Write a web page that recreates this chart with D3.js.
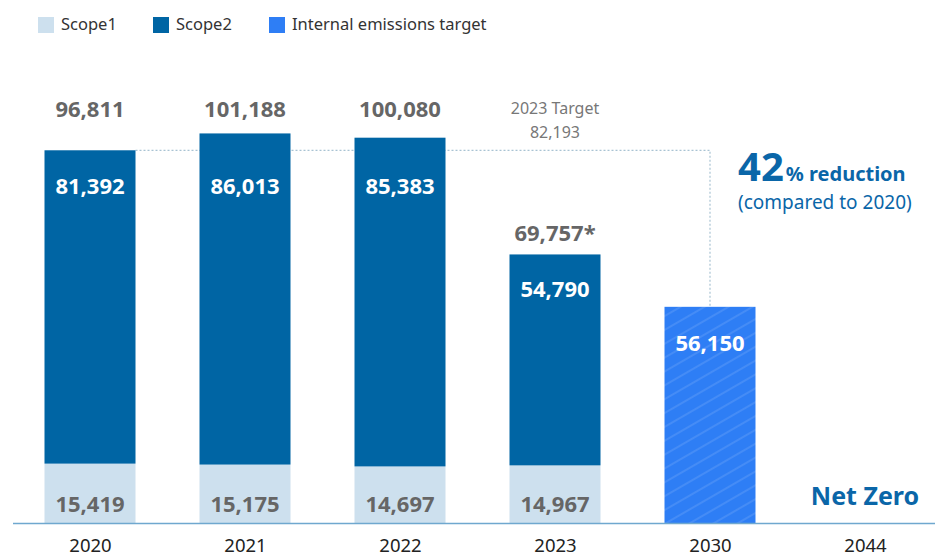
<!DOCTYPE html>
<html>
<head>
<meta charset="utf-8">
<script src="https://cdn.jsdelivr.net/npm/d3@7/dist/d3.min.js"></script>
<style>
  html, body { margin: 0; padding: 0; background: #fff; }
  svg { display: block; font-family: "Noto Sans", "Open Sans", sans-serif; }
</style>
</head>
<body>
<svg id="chart" width="935" height="556"></svg>
<script>
// Emissions data (tCO2e)
const years = ["2020", "2021", "2022", "2023", "2030", "2044"];
const scope1 = [15419, 15175, 14697, 14967, null, null];
const scope2 = [81392, 86013, 85383, 54790, null, null];
const totals = ["96,811", "101,188", "100,080", "69,757*", null, null];
const targetValues = [null, null, null, null, 56150, 0];
const target2023 = 82193;
const legendLabels = ["Scope1", "Scope2", "Internal emissions target"];

const colors = {
  scope1: "#cde0ee",
  scope2: "#0065a4",
  target: "#2e7ef5",
  grey: "#666666",
  accent: "#0a66a8",
  axis: "#6fa8cf",
  guide: "#a9c3d3"
};

const svg = d3.select("#chart");
const fmt = d3.format(",");

const baseY = 523;
const x = d3.scalePoint().domain(years).range([90, 865]);
const barW = 91;
const y = d3.scaleLinear().domain([0, 110000]).range([baseY, baseY - 423.5]);

// hatch for target bar
const defs = svg.append("defs");
const pat = defs.append("pattern")
  .attr("id", "hatch")
  .attr("patternUnits", "userSpaceOnUse")
  .attr("width", 12).attr("height", 12)
  .attr("patternTransform", "rotate(-30)");
pat.append("rect").attr("width", 12).attr("height", 12).attr("fill", colors.target);
pat.append("line").attr("x1", 0).attr("x2", 12).attr("y1", 6).attr("y2", 6)
  .attr("stroke", "rgba(255,255,255,0.22)").attr("stroke-width", 1);

// legend
const legendX = [38, 153, 269];
const legendFill = [colors.scope1, colors.scope2, colors.target];
const lg = svg.append("g");
legendLabels.forEach((t, i) => {
  lg.append("rect").attr("x", legendX[i]).attr("y", 17).attr("width", 16).attr("height", 16)
    .attr("fill", legendFill[i]);
  lg.append("text").attr("x", legendX[i] + 23).attr("y", 30)
    .attr("font-size", 16.5).attr("fill", "#333").text(t);
});

// guide from 2020 level to the 2030 target
const level2020 = scope1[0] + scope2[0];
const guideY = y(level2020);
svg.append("path")
  .attr("d", d3.line()([
    [x("2020") + barW / 2, guideY],
    [x("2030"), guideY],
    [x("2030"), y(targetValues[4])]
  ]))
  .attr("fill", "none")
  .attr("stroke", colors.guide)
  .attr("stroke-width", 1.2)
  .attr("stroke-dasharray", "2,2");

// stacked actual bars
const actual = years.map((yr, i) => ({ yr, s1: scope1[i], s2: scope2[i], total: totals[i] }))
  .filter(d => d.s1 != null);

const g = svg.append("g");
g.selectAll("rect.s1").data(actual).join("rect")
  .attr("x", d => x(d.yr) - barW / 2)
  .attr("y", d => y(d.s1))
  .attr("width", barW)
  .attr("height", d => y(0) - y(d.s1))
  .attr("fill", colors.scope1);

g.selectAll("rect.s2").data(actual).join("rect")
  .attr("x", d => x(d.yr) - barW / 2)
  .attr("y", d => y(d.s1 + d.s2))
  .attr("width", barW)
  .attr("height", d => y(d.s1) - y(d.s1 + d.s2))
  .attr("fill", colors.scope2);

// target bar
const tgt = years.map((yr, i) => ({ yr, v: targetValues[i] })).filter(d => d.v);
g.selectAll("rect.t").data(tgt).join("rect")
  .attr("x", d => x(d.yr) - barW / 2)
  .attr("y", d => y(d.v))
  .attr("width", barW)
  .attr("height", d => y(0) - y(d.v))
  .attr("fill", "url(#hatch)");

// value labels
const totalRow = 117;
const innerRow = 194;
g.selectAll("text.total").data(actual).join("text")
  .attr("x", d => x(d.yr))
  .attr("y", d => {
    const top = y(d.s1 + d.s2);
    return top < 170 ? totalRow : top - 13;
  })
  .attr("text-anchor", "middle")
  .attr("font-size", 22).attr("font-weight", 700)
  .attr("fill", colors.grey)
  .text(d => d.total);

g.selectAll("text.s2").data(actual).join("text")
  .attr("x", d => x(d.yr))
  .attr("y", d => Math.max(y(d.s1 + d.s2) + 43, innerRow))
  .attr("text-anchor", "middle")
  .attr("font-size", 22).attr("font-weight", 700)
  .attr("fill", "#fff")
  .text(d => fmt(d.s2));

g.selectAll("text.s1").data(actual).join("text")
  .attr("x", d => x(d.yr))
  .attr("y", baseY - 11)
  .attr("text-anchor", "middle")
  .attr("font-size", 22).attr("font-weight", 700)
  .attr("fill", colors.grey)
  .text(d => fmt(d.s1));

g.selectAll("text.t").data(tgt).join("text")
  .attr("x", d => x(d.yr))
  .attr("y", d => y(d.v) + 44)
  .attr("text-anchor", "middle")
  .attr("font-size", 22).attr("font-weight", 700)
  .attr("fill", "#fff")
  .text(d => fmt(d.v));

// 2023 target note
svg.append("text").attr("x", x("2023")).attr("y", 114)
  .attr("text-anchor", "middle").attr("font-size", 16).attr("fill", "#777")
  .text("2023 Target");
svg.append("text").attr("x", x("2023")).attr("y", 138)
  .attr("text-anchor", "middle").attr("font-size", 16).attr("fill", "#777")
  .text(fmt(target2023));

// reduction callout
const pct = Math.round((1 - targetValues[4] / level2020) * 100);
const callout = svg.append("text").attr("x", 738).attr("y", 181).attr("fill", colors.accent)
  .attr("font-weight", 700);
callout.append("tspan").attr("font-size", 40).text(pct);
callout.append("tspan").attr("font-size", 20).attr("dx", 2).text("% reduction");
svg.append("text").attr("x", 738).attr("y", 209).attr("fill", colors.accent)
  .attr("font-size", 19).text("(compared to 2020)");

// net zero label
svg.append("text").attr("x", x("2044")).attr("y", 505)
  .attr("text-anchor", "middle").attr("font-size", 25).attr("font-weight", 700)
  .attr("fill", colors.accent).text("Net Zero");

// baseline and year axis
svg.append("line").attr("x1", 13).attr("x2", 935).attr("y1", baseY + 0.5).attr("y2", baseY + 0.5)
  .attr("stroke", colors.axis).attr("stroke-width", 1.5);

const axis = d3.axisBottom(x).tickSize(0).tickPadding(0);
const ax = svg.append("g").attr("transform", `translate(0,${baseY})`).call(axis);
ax.select(".domain").remove();
ax.selectAll("text")
  .attr("dy", null)
  .attr("y", 29)
  .attr("font-family", "Noto Sans, sans-serif")
  .attr("font-size", 18.5)
  .attr("fill", "#222");
</script>
</body>
</html>
